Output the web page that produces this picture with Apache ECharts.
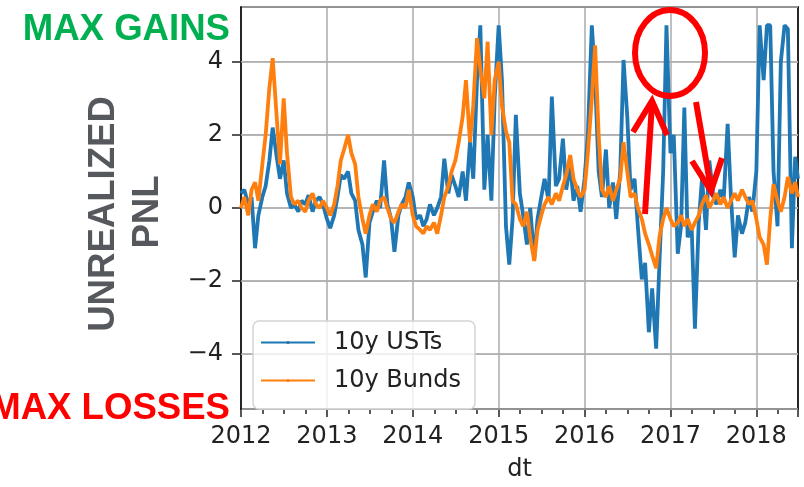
<!DOCTYPE html>
<html>
<head>
<meta charset="utf-8">
<script src="https://cdn.jsdelivr.net/npm/echarts@6/dist/echarts.min.js"></script>
<style>
  html, body { margin: 0; padding: 0; background: #fff; }
  #chart { width: 804px; height: 487px; }
</style>
</head>
<body>
<div id="chart"></div>
<script>
// ---- sampling dates (1st and 15th of each month) ----
const dates = [];
for (let y = 2012; y <= 2018; y++) {
  for (let m = 1; m <= 12; m++) {
    if (y === 2018 && m > 6) break;
    for (const d of [1, 15]) {
      dates.push(y + '-' + String(m).padStart(2, '0') + '-' + String(d).padStart(2, '0'));
    }
  }
}
dates.push('2018-06-27');

// ---- 10y USTs unrealized PnL ----
const ustValues = [
  // 2012
  0.4, 0.5, 0.1, 0.3, -1.1, -0.2, 0.3, 0.6, 1.3, 2.2, 1.4, 0.8, 1.3, 0.4, 0.0, 0.1, -0.1, 0.2, 0.1, 0.35, -0.1, 0.2, 0.3, 0.1,
  // 2013
  -0.3, -0.55, -0.2, 0.3, 0.9, 0.8, 1.0, 0.4, 0.2, -0.6, -1.0, -1.9, -0.4, -0.1, 0.2, 0.0, 1.3, 0.1, -0.3, -1.2, -0.2, 0.1, 0.3, 0.7,
  // 2014
  0.3, -0.3, -0.2, -0.5, -0.3, 0.1, -0.2, 0.0, 0.3, 1.35, 0.4, 0.9, 0.6, 0.3, 1.0, 0.2, 1.8, 0.8, 3.5, 5.0, 0.5, 2.0, 0.2, 3.0,
  // 2015
  5.0, 3.5, -0.5, -1.55, -0.3, 2.55, 0.4, -0.2, -1.0, 0.0, -1.4, -0.3, 0.3, 0.8, 0.2, 3.05, 0.6, 0.8, 1.9, 0.5, 1.2, 0.2, 0.6, -0.1,
  // 2016
  0.8, 2.0, 5.0, 3.5, 1.0, 0.3, 1.6, 0.0, 0.7, -0.3, 1.0, 4.05, 2.5, 0.5, 0.8, -0.5, -1.95, -1.5, -3.4, -2.2, -3.85, -1.5, 1.0, 5.0,
  // 2017
  1.5, 2.0, -1.25, -0.5, 2.75, -0.8, -0.5, -3.3, -0.4, 0.8, -0.6, 1.3, 0.4, 0.1, 0.5, 0.2, 2.3, 0.3, -1.35, -0.2, -0.7, -0.4, 0.3, -0.1,
  // 2018
  1.0, 5.0, 3.5, 5.0, 5.0, 1.0, -0.5, 4.0, 5.0, 4.9, -1.1, 1.4, 0.8
];

// ---- 10y Bunds unrealized PnL ----
const bundValues = [
  // 2012
  0.0, 0.3, -0.2, 0.5, 0.7, 0.2, 1.2, 2.0, 3.3, 4.1, 2.5, 1.2, 3.0, 1.5, 0.3, 0.1, 0.2, 0.0, -0.1, 0.2, 0.4, 0.1, 0.0, 0.2,
  // 2013
  0.0, -0.2, 0.1, 0.6, 1.3, 1.6, 2.0, 1.5, 1.2, 0.3, -0.3, -0.7, -0.2, 0.1, -0.1, 0.2, 0.3, 0.0, -0.3, -0.4, -0.1, 0.1, 0.0, 0.5,
  // 2014
  -0.2, -0.5, -0.6, -0.7, -0.5, -0.6, -0.4, -0.7, -0.2, 0.3, 0.6, 1.0, 1.3, 1.8, 2.5, 3.5, 1.8, 2.8, 4.65, 3.8, 3.0, 4.55, 2.0, 3.5,
  // 2015
  4.0, 2.8, 2.1, 1.8, 0.2, 0.1, -0.3, -0.5, -0.1, -0.8, -1.45, -0.6, -0.2, 0.1, 0.3, 0.1, 0.4, 0.2, 0.6, 0.9, 1.45, 0.8, 0.5, 0.3,
  // 2016
  0.5, 1.5, 3.0, 4.45, 2.0, 0.5, 0.3, 0.6, 0.2, 0.5, 0.8, 1.8, 1.0, 0.3, 0.4, 0.0, -0.3, -0.7, -1.0, -1.3, -1.65, -0.8, -0.3, 0.0,
  // 2017
  -0.3, -0.5, -0.4, -0.2, -0.5, -0.3, -0.6, -0.4, -0.2, 0.1, 0.35, 0.0, 0.2, 0.4, 0.1, 0.3, 0.0, 0.2, 0.4, 0.2, 0.5, 0.3, 0.1, 0.2,
  // 2018
  -0.3, -0.8, -1.0, -1.55, -0.3, 0.65, 0.2, -0.1, 0.3, 0.85, 0.4, 0.7, 0.3
];

const seriesNames = ['10y USTs', '10y Bunds'];
const yTickValues = [-4, -2, 0, 2, 4];
const xStartYear = 2012;

// date string -> fractional year (x-axis scale)
function toYear(s) {
  const p = s.split('-').map(Number);
  const t = Date.UTC(p[0], p[1] - 1, p[2]);
  const a = Date.UTC(p[0], 0, 1), b = Date.UTC(p[0] + 1, 0, 1);
  return p[0] + (t - a) / (b - a);
}
const xs = dates.map(toYear);
const xMin = xStartYear, xMax = xs[xs.length - 1];
const ustData = xs.map((x, i) => [x, ustValues[i]]);
const bundData = xs.map((x, i) => [x, bundValues[i]]);

const tickFont = 'DejaVu Sans';
const gridColor = '#b0b0b0';
const gridLine = () => ({ show: true, lineStyle: { color: gridColor, width: 1.6, type: 'solid' } });
const frameLine = () => ({ show: true, onZero: false, lineStyle: { color: '#000', width: 1.6 } });
const bigFont = 'bold 36.6px "Liberation Sans", Arial, sans-serif';

// horizontal grid lines at the y tick values, placed through the axes (own canvas layer)
const hGridSeries = {
  name: 'hgrid', type: 'custom', silent: true, zlevel: 1, z: 1,
  data: yTickValues.map(v => [xMin, v]),
  renderItem: function (params, api) {
    const v = api.value(1);
    const p0 = api.coord([xMin, v]);
    const p1 = api.coord([xMax, v]);
    return {
      type: 'rect',
      shape: { x: p0[0], y: p0[1] - 0.8, width: p1[0] - p0[0], height: 1.6 },
      style: { fill: gridColor }
    };
  }
};

const chart = echarts.init(document.getElementById('chart'), null, { renderer: 'canvas' });

chart.setOption({
  animation: false,
  backgroundColor: '#ffffff',
  grid: { left: 241, right: 6, top: 7, bottom: 71 },
  xAxis: [{
    type: 'value',
    position: 'bottom',
    min: xMin,
    max: xMax,
    interval: 1,
    name: 'dt',
    nameLocation: 'middle',
    nameGap: 49,
    nameTextStyle: { fontFamily: tickFont, fontSize: 24, color: '#222' },
    axisLine: frameLine(),
    axisTick: { show: true, length: 8, lineStyle: { color: '#222', width: 1.5 } },
    minorTick: { show: true, splitNumber: 4, length: 5, lineStyle: { color: '#222', width: 1.5 } },
    axisLabel: {
      fontFamily: tickFont, fontSize: 24, color: '#222', margin: 16,
      showMaxLabel: false,
      formatter: v => String(Math.round(v))
    },
    splitLine: gridLine()
  }, {
    type: 'value',
    position: 'top',
    min: xMin,
    max: xMax,
    interval: 1,
    axisLine: frameLine(),
    axisTick: { show: false }, axisLabel: { show: false }, splitLine: { show: false }
  }],
  yAxis: [{
    type: 'value',
    position: 'left',
    zlevel: 1,
    min: -5.5, max: 5.5,
    splitNumber: 5,
    axisLine: frameLine(),
    axisTick: { show: true, length: 9, lineStyle: { color: '#222', width: 1.5 } },
    axisLabel: {
      fontFamily: tickFont, fontSize: 24, color: '#222', margin: 18,
      showMinLabel: false, showMaxLabel: false,
      formatter: v => (v < 0 ? '\u2212' + Math.abs(v) : String(v))
    },
    splitLine: gridLine()
  }, {
    type: 'value',
    position: 'right',
    min: -5.5, max: 5.5,
    splitNumber: 5,
    axisLine: frameLine(),
    axisTick: { show: false }, axisLabel: { show: false },
    splitLine: { show: false }
  }],
  legend: {
    zlevel: 2,
    orient: 'vertical',
    left: 253, top: 321,
    padding: [5, 14, 12, 7],
    itemWidth: 54, itemHeight: 4, itemGap: 5,
    backgroundColor: 'rgba(255,255,255,0.8)',
    borderColor: '#d4d4d4', borderWidth: 1.5, borderRadius: 6,
    textStyle: { fontFamily: tickFont, fontSize: 24, lineHeight: 28, color: '#222', padding: [5, 0, 0, 14] },
    data: seriesNames
  },
  series: [
    hGridSeries,
    {
      name: seriesNames[0], type: 'line', data: ustData, zlevel: 2, z: 2,
      xAxisIndex: 0, yAxisIndex: 0,
      symbol: 'none', showSymbol: false,
      lineStyle: { color: '#1f77b4', width: 3.8 }, itemStyle: { color: '#1f77b4' }
    },
    {
      name: seriesNames[1], type: 'line', data: bundData, zlevel: 2, z: 2,
      xAxisIndex: 0, yAxisIndex: 0,
      symbol: 'none', showSymbol: false,
      lineStyle: { color: '#ff7f0e', width: 3.8 }, itemStyle: { color: '#ff7f0e' }
    }
  ],
  graphic: [
    { type: 'text', zlevel: 3, z: 100, x: 230, y: 30,
      style: { text: 'MAX GAINS', fill: '#00b050', font: bigFont, textAlign: 'right', textVerticalAlign: 'middle' } },
    { type: 'text', zlevel: 3, z: 100, x: 230, y: 409,
      style: { text: 'MAX LOSSES', fill: '#ff0000', font: bigFont, textAlign: 'right', textVerticalAlign: 'middle' } },
    { type: 'text', zlevel: 3, z: 100, x: 104, y: 214, rotation: Math.PI / 2,
      style: { text: 'UNREALIZED', fill: '#55585c', font: bigFont, textAlign: 'center', textVerticalAlign: 'middle' } },
    { type: 'text', zlevel: 3, z: 100, x: 148, y: 212, rotation: Math.PI / 2,
      style: { text: 'PNL', fill: '#55585c', font: bigFont, textAlign: 'center', textVerticalAlign: 'middle' } },
    { type: 'ellipse', zlevel: 3, z: 100, shape: { cx: 670, cy: 53, rx: 35, ry: 43 },
      style: { fill: 'none', stroke: '#ff0000', lineWidth: 6 } },
    { type: 'line', zlevel: 3, z: 100, shape: { x1: 645, y1: 214, x2: 652, y2: 103 },
      style: { stroke: '#ff0000', lineWidth: 6 } },
    { type: 'polyline', zlevel: 3, z: 100, shape: { points: [[633, 132], [652, 101], [667, 135]] },
      style: { fill: 'none', stroke: '#ff0000', lineWidth: 6, lineJoin: 'miter' } },
    { type: 'line', zlevel: 3, z: 100, shape: { x1: 696, y1: 102, x2: 711, y2: 189 },
      style: { stroke: '#ff0000', lineWidth: 6 } },
    { type: 'polyline', zlevel: 3, z: 100, shape: { points: [[692, 161], [711, 191], [722, 158]] },
      style: { fill: 'none', stroke: '#ff0000', lineWidth: 6, lineJoin: 'miter' } }
  ]
});
</script>
</body>
</html>
